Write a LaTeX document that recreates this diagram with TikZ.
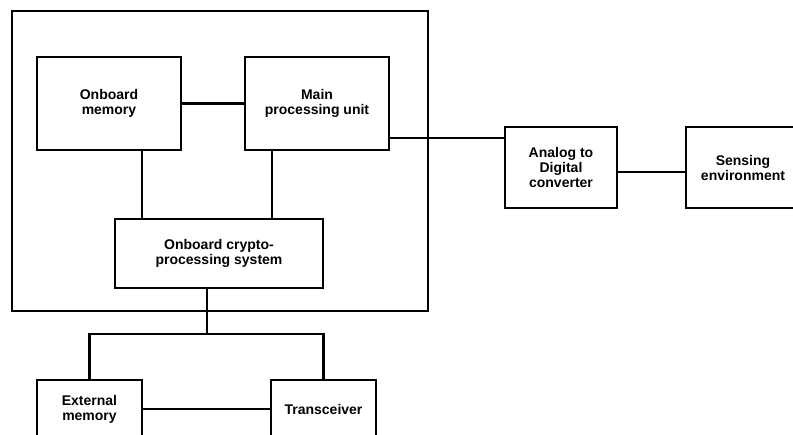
\documentclass[tikz,border=0pt]{standalone}
\usepackage{fontspec}
\setmainfont{Liberation Sans}
\begin{document}
\begin{tikzpicture}[x=1pt,y=-1pt,
  box/.style={draw, line width=2.8pt, align=center, inner sep=0pt,
    font=\fontsize{14}{15}\selectfont\bfseries},
  conn/.style={line width=2.8pt}]
\useasboundingbox (0,0) rectangle (793,435);
\clip (0,0) rectangle (793,435);
% enclosure
\node[box, minimum width=416pt, minimum height=300pt] (outer) at (220,161) {};
% nodes
\node[box, minimum width=144pt, minimum height=93pt] (om) at (109,103.5) {Onboard\\memory};
\node[box, minimum width=144pt, minimum height=93pt] (mp) at (317,103.5) {Main\\processing unit};
\node[box, minimum width=208pt, minimum height=69pt] (cr) at (219,253.5) {Onboard crypto-\\processing system};
\node[box, minimum width=112pt, minimum height=81pt] (adc) at (561,167.5) {Analog to\\Digital\\converter};
\node[box, minimum width=114pt, minimum height=81pt] (se) at (743,167.5) {Sensing\\environment};
\node[box, minimum width=105pt, minimum height=58pt] (em) at (89.5,409) {External\\memory};
\node[box, minimum width=105pt, minimum height=58pt] (tr) at (323.5,409) {Transceiver};
% helper coordinates
\coordinate (xa) at (142,0);
\coordinate (xb) at (272,0);
\coordinate (ma) at (389,138);
\coordinate (sa) at (617,172);
\coordinate (j) at (207,334);
% connectors
\draw[conn] (om.east) -- (mp.west);
\draw[conn] (om.south -| xa) -- (cr.north -| xa);
\draw[conn] (mp.south -| xb) -- (cr.north -| xb);
\draw[conn] (ma) -- (ma -| adc.west);
\draw[conn] (sa) -- (sa -| se.west);
\draw[conn] (cr.south -| j) -- (j);
\draw[conn] (em.north) -- (em.north |- j) -- (tr.north |- j) -- (tr.north);
\draw[conn] (em.east) -- (tr.west);
\end{tikzpicture}
\end{document}
